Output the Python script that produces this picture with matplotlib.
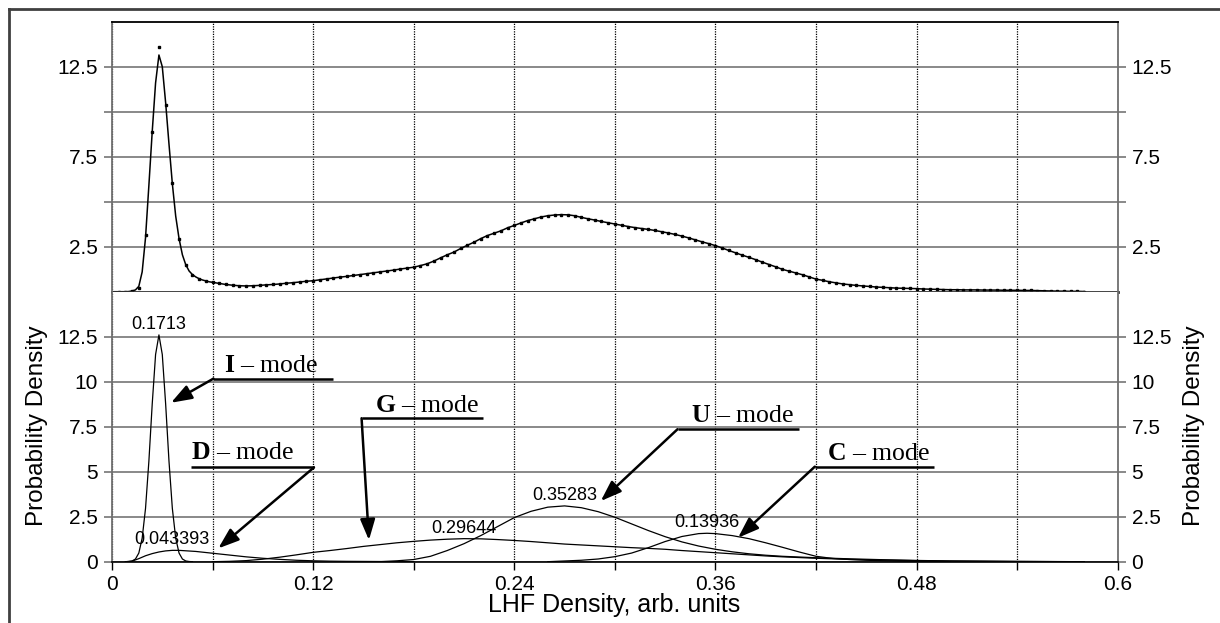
import numpy as np
import matplotlib
matplotlib.use('Agg')
import matplotlib.pyplot as plt
from matplotlib.lines import Line2D

plt.rcParams['font.family'] = ['Liberation Sans', 'DejaVu Sans']
plt.rcParams['mathtext.fontset'] = 'custom'
plt.rcParams['mathtext.rm'] = 'Liberation Serif'
plt.rcParams['mathtext.bf'] = 'Liberation Serif:bold'

# --- top panel: measured density (dots, step 0.004) ---
obs_x = np.round(np.arange(1, 146) * 0.004, 3)
obs_y = [0.0, 0.0, 0.03, 0.19, 3.15, 8.86, 13.58, 10.36, 6.02, 2.91,
         1.48, 0.95, 0.72, 0.6, 0.52, 0.46, 0.4, 0.36, 0.33, 0.32,
         0.33, 0.35, 0.38, 0.4, 0.43, 0.47, 0.5, 0.54, 0.58, 0.61,
         0.66, 0.71, 0.76, 0.81, 0.85, 0.9, 0.95, 1.0, 1.05, 1.1,
         1.15, 1.2, 1.26, 1.31, 1.36, 1.45, 1.55, 1.7, 1.88, 2.05,
         2.2, 2.4, 2.58, 2.75, 2.95, 3.12, 3.25, 3.38, 3.55, 3.68,
         3.82, 3.95, 4.05, 4.15, 4.22, 4.26, 4.28, 4.27, 4.22, 4.13,
         4.05, 3.98, 3.9, 3.83, 3.76, 3.69, 3.62, 3.56, 3.51, 3.46,
         3.4, 3.33, 3.26, 3.18, 3.09, 2.99, 2.88, 2.77, 2.67, 2.56,
         2.43, 2.29, 2.16, 2.03, 1.91, 1.78, 1.64, 1.51, 1.38, 1.24,
         1.14, 1.04, 0.94, 0.82, 0.7, 0.63, 0.55, 0.49, 0.43, 0.39,
         0.35, 0.32, 0.29, 0.26, 0.24, 0.22, 0.2, 0.19, 0.18, 0.17,
         0.15, 0.14, 0.13, 0.12, 0.11, 0.11, 0.1, 0.1, 0.1, 0.09,
         0.09, 0.09, 0.08, 0.08, 0.08, 0.07, 0.07, 0.06, 0.05, 0.04,
         0.03, 0.03, 0.02, 0.02, 0.01]

# fitted curve around the narrow peak (finer step)
fit_peak_x = [0.0, 0.004, 0.008, 0.010, 0.012, 0.014, 0.016, 0.018, 0.020, 0.022,
              0.024, 0.026, 0.028, 0.030, 0.032, 0.034, 0.036, 0.038, 0.040, 0.042,
              0.044, 0.046, 0.048, 0.050, 0.052, 0.054, 0.056, 0.058, 0.060]
fit_peak_y = [0.0, 0.0, 0.0, 0.01, 0.04, 0.1, 0.3, 1.1, 3.0, 5.9,
              8.9, 11.6, 13.15, 12.5, 10.5, 8.2, 6.0, 4.2, 2.95, 2.05,
              1.5, 1.15, 0.95, 0.82, 0.72, 0.65, 0.6, 0.55, 0.52]

# --- bottom panel: mode components ---
i_x = [0.008, 0.010, 0.012, 0.014, 0.016, 0.018, 0.020, 0.022, 0.024, 0.026, 0.028,
       0.030, 0.032, 0.034, 0.036, 0.038, 0.040, 0.042, 0.044, 0.046, 0.048]
i_y = [0.0, 0.01, 0.04, 0.15, 0.48, 1.31, 2.96, 5.58, 8.77, 11.51, 12.6,
       11.51, 8.77, 5.58, 2.96, 1.31, 0.48, 0.15, 0.04, 0.01, 0.0]

d_x = [0.008, 0.012, 0.016, 0.020, 0.024, 0.028, 0.032, 0.036, 0.040, 0.045, 0.050,
       0.055, 0.060, 0.065, 0.070, 0.075, 0.080, 0.085, 0.090, 0.095, 0.100, 0.110,
       0.120, 0.130, 0.140, 0.160, 0.180]
d_y = [0.0, 0.03, 0.17, 0.33, 0.45, 0.54, 0.6, 0.63, 0.63, 0.6, 0.57,
       0.52, 0.47, 0.42, 0.37, 0.32, 0.27, 0.23, 0.19, 0.16, 0.13, 0.08,
       0.05, 0.03, 0.02, 0.01, 0.0]

g_x = [0.06, 0.07, 0.08, 0.09, 0.10, 0.11, 0.12, 0.13, 0.14, 0.15, 0.16, 0.17, 0.18,
       0.19, 0.20, 0.21, 0.22, 0.23, 0.24, 0.25, 0.26, 0.27, 0.28, 0.29, 0.30, 0.31,
       0.32, 0.33, 0.34, 0.35, 0.36, 0.37, 0.38, 0.39, 0.40, 0.42, 0.44, 0.46, 0.48,
       0.50, 0.54, 0.58]
g_y = [0.0, 0.02, 0.06, 0.14, 0.25, 0.38, 0.52, 0.62, 0.73, 0.85, 0.95, 1.05, 1.13,
       1.2, 1.25, 1.28, 1.27, 1.23, 1.18, 1.12, 1.05, 0.98, 0.93, 0.88, 0.83, 0.78,
       0.74, 0.69, 0.62, 0.56, 0.5, 0.44, 0.38, 0.32, 0.27, 0.19, 0.13, 0.09, 0.06,
       0.04, 0.02, 0.0]

u_x = [0.16, 0.17, 0.18, 0.19, 0.20, 0.21, 0.22, 0.23, 0.24, 0.25, 0.26, 0.27, 0.28,
       0.29, 0.30, 0.31, 0.32, 0.33, 0.34, 0.35, 0.36, 0.37, 0.38, 0.39, 0.40, 0.42,
       0.44, 0.46, 0.48, 0.50, 0.54, 0.58]
u_y = [0.0, 0.05, 0.12, 0.3, 0.62, 1.0, 1.45, 1.95, 2.45, 2.8, 3.03, 3.1, 3.0,
       2.78, 2.47, 2.1, 1.73, 1.39, 1.1, 0.87, 0.69, 0.55, 0.44, 0.36, 0.3, 0.22,
       0.16, 0.11, 0.07, 0.04, 0.01, 0.0]

c_x = [0.26, 0.28, 0.29, 0.30, 0.31, 0.32, 0.33, 0.34, 0.35, 0.355, 0.36, 0.37, 0.38,
       0.39, 0.40, 0.41, 0.42, 0.43, 0.44, 0.45, 0.47, 0.50]
c_y = [0.0, 0.08, 0.15, 0.28, 0.48, 0.78, 1.12, 1.4, 1.56, 1.58, 1.56, 1.45, 1.28,
       1.05, 0.8, 0.54, 0.3, 0.18, 0.12, 0.08, 0.03, 0.0]

weights = ['0.1713', '0.043393', '0.29644', '0.35283', '0.13936']
modes = ['I', 'D', 'G', 'U', 'C']

W, H = 1220, 623
fig = plt.figure(figsize=(W / 100, H / 100), dpi=100)
left = 112 / W
width = 1005.7 / W
hgt = 270 / H
ax_top = fig.add_axes([left, 1 - 291.7 / H, width, hgt])
ax_bot = fig.add_axes([left, 1 - 561.7 / H, width, hgt])

xticks = np.round(np.arange(0, 0.61, 0.06), 2)
grid_gray = '#808080'

for ax in (ax_top, ax_bot):
    ax.set_xlim(0, 0.6)
    ax.set_ylim(0, 15)
    ax.set_xticks(xticks)
    ax.set_axisbelow(True)
    ax.grid(axis='y', color=grid_gray, lw=1.3, ls='-')
    ax.grid(axis='x', color='black', lw=0.9, ls=(0, (1, 1)))
    ax.tick_params(axis='y', direction='out', length=6, width=1.3, color=grid_gray,
                   left=True, right=True, labelleft=True, labelright=True,
                   labelsize=15, pad=4)
    for s in ('left', 'right'):
        ax.spines[s].set_color('#707070')
        ax.spines[s].set_linewidth(1.3)

# top panel
ax_top.set_yticks([2.5, 5, 7.5, 10, 12.5])
ax_top.set_yticklabels(['2.5', '', '7.5', '', '12.5'])
ax_top.tick_params(axis='x', length=0, labelbottom=False)
ax_top.spines['top'].set_color('black')
ax_top.spines['top'].set_linewidth(1.3)
ax_top.spines['bottom'].set_color('#333333')
ax_top.spines['bottom'].set_linewidth(2)

line_x = list(fit_peak_x) + [x for x in obs_x if x > 0.06]
line_y = list(fit_peak_y) + [y for x, y in zip(obs_x, obs_y) if x > 0.06]
ax_top.plot(line_x, line_y, color='black', lw=1.1)
ax_top.plot(obs_x, obs_y, ls='none', marker='s', ms=1.6, color='black')

# bottom panel
ax_bot.set_yticks([0, 2.5, 5, 7.5, 10, 12.5])
ax_bot.set_yticklabels(['0', '2.5', '5', '7.5', '10', '12.5'])
ax_bot.set_xticklabels(['0', '', '0.12', '', '0.24', '', '0.36', '', '0.48', '', '0.6'])
ax_bot.tick_params(axis='x', direction='out', length=5.7, width=1, color='black',
                   labelsize=15, pad=4)
ax_bot.spines['top'].set_visible(False)
ax_bot.spines['bottom'].set_color('black')
ax_bot.spines['bottom'].set_linewidth(1.2)

comps = [(i_x, i_y), (d_x, d_y), (g_x, g_y), (u_x, u_y), (c_x, c_y)]
for (cx, cy), w in zip(comps, weights):
    ax_bot.plot(cx, cy, color='black', lw=0.9)
    k = int(np.argmax(cy))
    ax_bot.annotate(w, xy=(cx[k], cy[k]), xytext=(0, 1.5), textcoords='offset points',
                    ha='center', va='bottom', fontsize=13)

# mode callouts: text position, underline end, elbow, arrow tip
callouts = [
    ((0.067, 10.56), (0.1316, 10.17), (0.0605, 10.17), (0.0352, 8.83)),
    ((0.0474, 5.69), (0.0472, 5.24), (0.1205, 5.24), (0.0634, 0.74)),
    ((0.1568, 8.33), (0.2211, 7.97), (0.1489, 7.97), (0.1533, 1.20)),
    ((0.3453, 7.78), (0.4097, 7.36), (0.3374, 7.36), (0.2916, 3.37)),
    ((0.4264, 5.65), (0.4902, 5.28), (0.4193, 5.28), (0.3735, 1.33)),
]
for m, (txt, end, elbow, tip) in zip(modes, callouts):
    ax_bot.text(txt[0], txt[1], r'$\mathbf{' + m + r'}$ – mode',
                family='Liberation Serif', fontsize=18.5, ha='left', va='baseline')
    ax_bot.plot([end[0], elbow[0]], [end[1], elbow[1]], color='black', lw=1.8,
                solid_capstyle='butt')
    ax_bot.annotate('', xy=tip, xytext=elbow,
                    arrowprops=dict(arrowstyle='-|>,head_length=0.7,head_width=0.25',
                                    mutation_scale=18, lw=1.8, color='black',
                                    shrinkA=0, shrinkB=0))

# axis titles
fig.text(36.7 / W, 1 - 426 / H, 'Probability Density', rotation=90,
         ha='center', va='center', fontsize=17.5)
fig.text(1194 / W, 1 - 426 / H, 'Probability Density', rotation=90,
         ha='center', va='center', fontsize=17.5)
fig.text(614.5 / W, 1 - 605 / H, 'LHF Density, arb. units',
         ha='center', va='center', fontsize=18)

# outer frame (top and left edges)
fig.add_artist(Line2D([8.5 / W, 1], [1 - 8.5 / H, 1 - 8.5 / H],
                      transform=fig.transFigure, color='#404040', lw=2))
fig.add_artist(Line2D([8.5 / W, 8.5 / W], [0, 1 - 8.5 / H],
                      transform=fig.transFigure, color='#404040', lw=2))

fig.savefig('out.png', dpi=100)
